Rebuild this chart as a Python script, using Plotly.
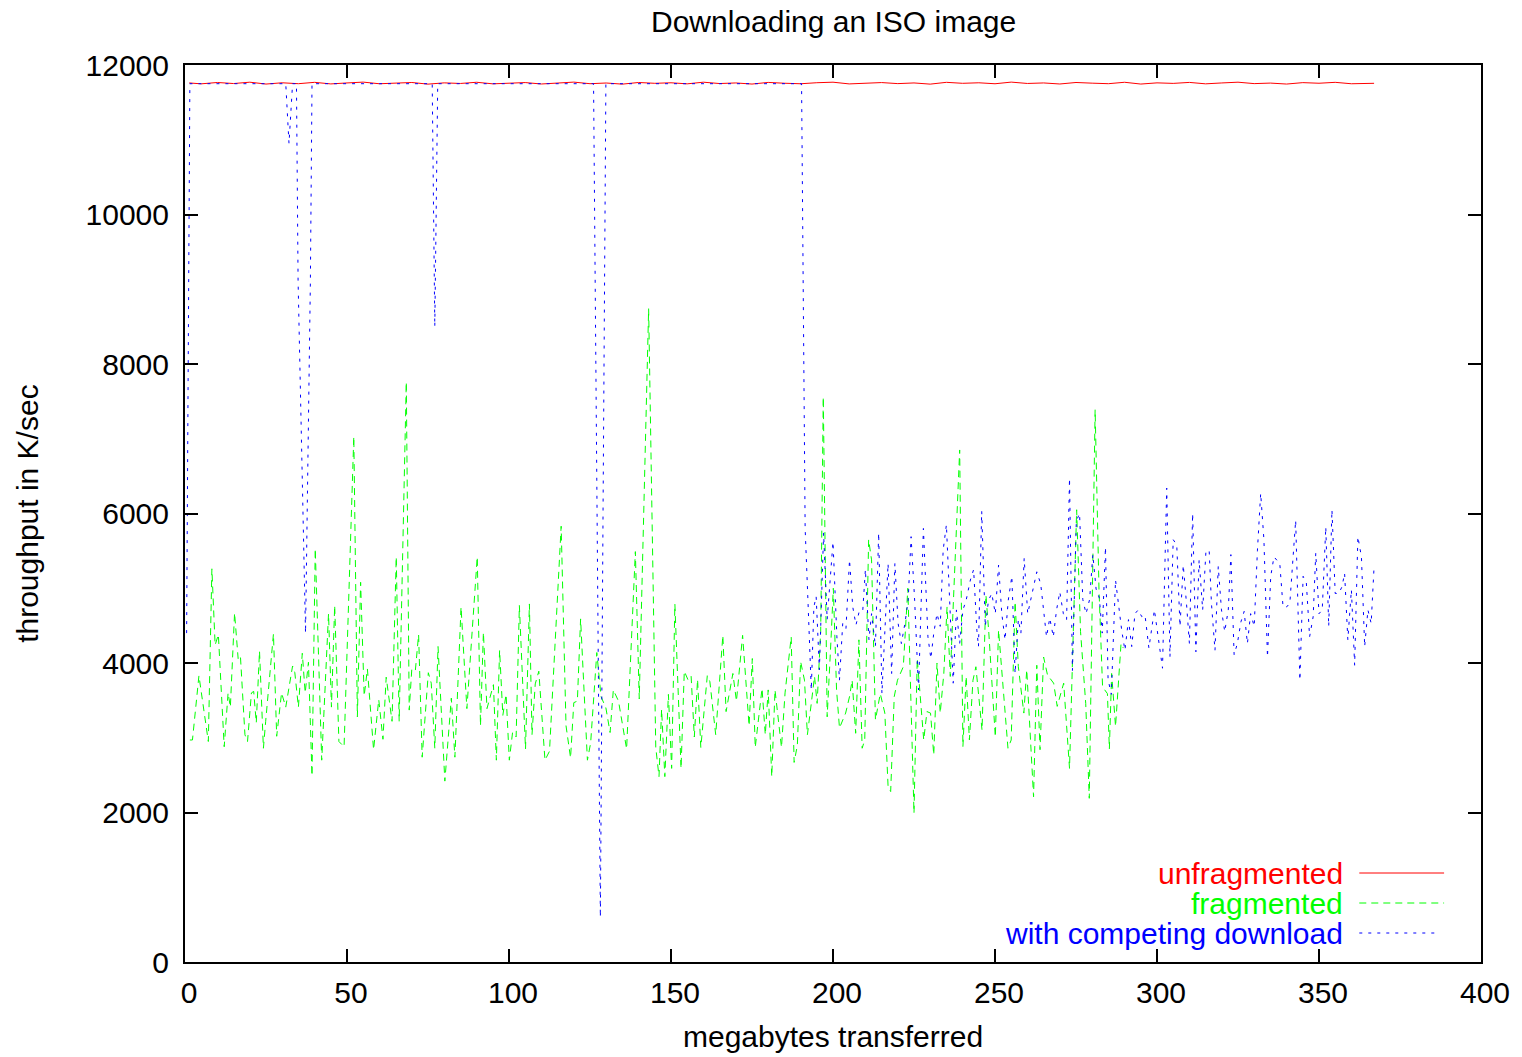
import plotly.graph_objects as go

# ---------------- data ----------------
red_x = [1.3, 5, 10, 15, 20, 25, 30, 35, 40, 45, 50, 55, 60, 65, 70, 75, 80, 85, 90, 95,
         100, 105, 110, 115, 120, 125, 130, 135, 140, 145, 150, 155, 160, 165, 170, 175,
         180, 185, 190, 195, 200, 205, 210, 215, 220, 225, 230, 235, 240, 245, 250, 255,
         260, 265, 270, 275, 280, 285, 290, 295, 300, 305, 310, 315, 320, 325, 330, 335,
         340, 345, 350, 355, 360, 365, 367]
red_y = [11760, 11748, 11766, 11752, 11770, 11745, 11762, 11750, 11768, 11747, 11760, 11771,
         11749, 11758, 11766, 11744, 11761, 11753, 11769, 11748, 11757, 11765, 11746, 11760,
         11771, 11750, 11759, 11744, 11766, 11755, 11762, 11748, 11770, 11752, 11760, 11745,
         11767, 11756, 11749, 11763, 11770, 11747, 11758, 11765, 11751, 11760, 11744, 11768,
         11755, 11762, 11749, 11771, 11753, 11760, 11746, 11766, 11757, 11750, 11769, 11745,
         11761, 11754, 11767, 11748, 11760, 11770, 11751, 11758, 11745, 11764, 11756, 11768,
         11749, 11760, 11755]

green_x = [1.5, 2.3, 4.3, 7.2, 8.3, 9.3, 10.3, 12.1, 13.3, 14.0, 15.3, 16.4, 17.1, 18.5, 19.3,
           20.5, 21.2, 22.0, 23.0, 24.2, 24.9, 27.3, 28.3, 29.8, 31.1, 33.2, 33.9, 35.0, 36.2,
           37.1, 38.1, 39.2, 40.2, 42.2, 44.3, 45.2, 46.2, 47.5, 49.1, 52.1, 53.2, 54.2, 55.3,
           56.3, 58.2, 59.8, 61.1, 62.1, 63.9, 65.2, 66.1, 68.3, 69.2, 70.0, 71.1, 72.1, 73.2,
           75.1, 76.0, 77.1, 78.1, 80.2, 82.2, 83.3, 85.2, 87.0, 90.2, 91.2, 92.1, 93.2, 95.2,
           96.1, 97.1, 98.1, 99.1, 100.1, 101.1, 102.2, 103.2, 105.1, 106.3, 107.1, 108.1,
           109.2, 111.1, 112.5, 116.1, 117.6, 119.0, 120.0, 121.1, 122.1, 124.2, 125.2, 127.1,
           128.4, 129.9, 131.2, 132.2, 133.8, 136.3, 139.0, 140.2, 143.1, 145.3, 146.3, 147.1,
           148.1, 149.2, 150.2, 151.2, 153.1, 154.1, 155.2, 156.2, 157.2, 158.2, 159.2, 161.2,
           162.0, 163.8, 166.0, 167.0, 169.1, 170.2, 172.1, 174.1, 175.1, 176.0, 178.1, 179.1,
           180.0, 181.1, 182.1, 184.1, 185.2, 187.1, 188.0, 189.0, 190.0, 191.2, 192.1, 193.3,
           194.3, 195.1, 196.2, 197.0, 198.2, 199.4, 200.1, 201.1, 202.0, 203.9, 205.1, 205.9,
           207.0, 208.0, 209.0, 209.8, 211.0, 211.9, 213.1, 214.6, 216.0, 217.0, 217.8, 218.9,
           219.9, 221.7, 223.1, 225.0, 226.0, 228.0, 229.0, 230.1, 231.1, 232.1, 233.1, 234.2,
           235.2, 236.2, 239.1, 240.1, 241.1, 242.1, 243.2, 244.1, 246.0, 247.2, 248.1, 250.1,
           251.1, 254.0, 255.0, 256.2, 257.2, 258.9, 259.8, 261.9, 262.9, 263.9, 265.0, 266.2,
           268.1, 269.2, 271.2, 273.0, 275.2, 276.4, 278.0, 279.1, 280.9, 282.1, 283.2, 284.7,
           285.3, 286.0, 287.2, 288.9, 289.6]
green_y = [2970, 2970, 3830, 2950, 5260, 4240, 4380, 2880, 3600, 3410, 4670, 4060, 4100, 3040, 2950,
           3600, 3620, 3200, 4160, 2860, 3220, 4390, 3020, 3600, 3410, 3960, 3870, 3410, 4130,
           3600, 4010, 2490, 5530, 2700, 4660, 3410, 4770, 2950, 2880, 7030, 3280, 5080, 3560,
           3920, 2840, 3510, 2980, 3810, 3220, 5420, 3220, 7760, 3370, 3920, 3900, 4380, 2740,
           3870, 3730, 2860, 4220, 2420, 3530, 2740, 4750, 3390, 5420, 3160, 4410, 3390, 3710,
           2700, 4170, 3300, 3580, 2700, 3070, 3010, 4770, 2850, 4790, 3040, 3720,
           3890, 2700, 2820, 5830, 3160, 2730, 3470, 3490, 4590, 2700, 2930, 4140,
           3550, 3400, 3070, 3640, 3490, 2850, 5490, 3520, 8740, 2870, 2480, 3380,
           2480, 3580, 2590, 4790, 2590, 3890, 3780, 3830, 3010, 3780, 2870, 3830,
           3750, 3040, 4370, 3350, 3860, 3490, 4370, 3160, 4060, 2870, 3660, 3040,
           3640, 2480, 3640, 2870, 3600, 4350, 2670, 2900, 4020, 3770, 3040, 3460,
           3820, 3460, 4420, 7560, 3280, 4330, 5000, 3640, 3130, 3330, 3550, 3770,
           3060, 4310, 2860, 2970, 5650, 5380, 3240, 3590, 3330, 2350, 2280, 3550,
           3770, 3950, 5000, 1990, 4060, 2970, 3350, 3330, 2770, 4000, 3330, 3860,
           4750, 3820, 6850, 2880, 3820, 2970, 3770, 3950, 3100, 4910, 4400, 3010,
           4440, 2860, 2970, 4820, 3950, 3330, 3910, 2210, 3970, 2840, 4080, 3840,
           3730, 3420, 3730, 2590, 6050, 4420, 3460, 2190, 7390, 4980, 3680, 3590,
           2850, 3860, 3150, 4260, 4200]

blue_x = [0.5, 1.5, 31.1, 32.1, 33.2, 34.4, 34.9, 37.2, 38.7, 39.2, 76.3, 77.1, 78.0,
          126.1, 128.2, 129.9, 190.3, 191.4, 192.3, 193.3,
          194.1, 194.8, 195.8, 197.1, 198.2, 200.0, 201.2, 202.0, 203.0, 204.0, 205.1, 206.1,
          207.1, 208.2, 209.2, 210.0, 211.1, 211.9, 213.1, 214.1, 215.1, 216.2, 217.0, 218.1,
          219.1, 220.1, 221.1, 222.2, 223.2, 224.1, 225.2, 226.4, 227.9, 229.3, 230.2, 231.1,
          232.1, 233.1, 234.0, 235.0, 236.1, 237.1, 238.1, 239.1, 240.1, 241.1, 242.4, 243.4,
          244.4, 244.9, 245.9, 247.0, 248.0, 249.0, 250.1, 251.1, 252.1, 253.1, 254.1, 255.2,
          256.2, 257.2, 258.0, 259.0, 260.1, 261.8, 262.9, 264.1, 265.2, 265.9, 266.9, 268.0,
          269.0, 270.0, 271.1, 272.1, 273.0, 273.9, 275.1, 276.1, 277.1, 278.1, 279.2, 280.2,
          281.2, 282.2, 283.1, 284.1, 284.9, 285.9, 287.2, 288.1, 289.1, 290.1, 291.2, 292.2,
          293.2, 294.2, 295.3, 296.3, 297.5, 299.2, 300.4, 301.7, 303.0, 304.0, 305.0, 306.1,
          307.1, 308.1, 309.1, 310.0, 311.0, 312.0, 313.0, 314.1, 315.1, 316.1, 316.8, 317.9,
          318.9, 319.9, 320.9, 322.0, 322.8, 323.8, 324.8, 325.9, 326.9, 327.9, 328.9, 330.0,
          331.0, 332.0, 333.0, 334.1, 335.1, 336.1, 337.9, 338.9, 340.0, 341.0, 342.8, 344.1,
          345.1, 346.1, 347.1, 348.2, 349.0, 350.0, 351.0, 352.1, 353.0, 354.0, 355.0, 356.1,
          357.1, 357.9, 358.9, 360.0, 361.0, 362.0, 363.1, 364.1, 365.1, 366.1, 367.0]
blue_y = [4400, 11750, 11750, 10950, 11750, 11750, 9120, 4400, 9120, 11750, 11750, 8500, 11750,
          11750, 600, 11750, 11750, 5800, 4800, 3640,
          4750, 4890, 3910, 5740, 4580, 5620, 4350, 3770, 4530, 4460, 5380, 4750,
          4510, 4710, 4710, 5250, 4310, 4660, 4220, 5740, 3590, 4710, 5330, 3860,
          5330, 4530, 4260, 4530, 4840, 5690, 4840, 3640, 5800, 4350, 4060, 4400,
          4660, 4490, 5510, 5850, 4620, 3730, 4710, 4260, 4710, 4840, 5110, 5250,
          4440, 4220, 6030, 4490, 4840, 4930, 4660, 5310, 4660, 4310, 4840, 5160,
          3860, 4580, 4400, 5400, 4660, 5020, 5220, 5060, 4580, 4350, 4600, 4350,
          4710, 4950, 4660, 4580, 6470, 3900, 5900, 6000, 4850, 4660, 4850, 5450,
          4990, 4870, 4400, 5550, 3780, 3580, 5110, 4750, 4440, 4170, 4580, 4220,
          4660, 4710, 4620, 4640, 4200, 4710, 4350, 3930, 6340, 4080, 5650, 5580,
          4490, 5310, 4800, 4260, 6000, 4150, 5380, 4710, 5490, 5510, 4800, 4170,
          5290, 4710, 4420, 4710, 5450, 4110, 4260, 4550, 4690, 4260, 4660, 4490,
          5510, 6270, 5650, 4080, 5160, 5420, 5330, 4750, 4750, 4800, 5910, 3770,
          5160, 5070, 4350, 4620, 5470, 4660, 4710, 5820, 4490, 6050, 4930, 4930,
          5020, 5200, 4310, 4980, 3970, 5690, 5420, 4220, 4710, 4530, 5290]

x_ticks = [0, 50, 100, 150, 200, 250, 300, 350, 400]
y_ticks = [0, 2000, 4000, 6000, 8000, 10000, 12000]

series_names = ["unfragmented", "fragmented", "with competing download"]
series_colors = ["#ff0000", "#00ff00", "#0000ff"]
series_dash = ["solid", "7px,5px", "3px,6px"]

FONT = "Liberation Sans, Arial, Helvetica, sans-serif"
FS = 30

fig = go.Figure()
for xs, ys, name, col, dash in zip([red_x, green_x, blue_x], [red_y, green_y, blue_y],
                                   series_names, series_colors, series_dash):
    fig.add_trace(go.Scatter(x=xs, y=ys, mode="lines", name=name,
                             line=dict(color=col, width=1, dash=dash), showlegend=False))

# plot-area geometry (pixels)
L, R, T, B = 185, 1484, 65, 962
W, H = R - L, B - T

def px(xp):
    return (xp - L) / W

def py(yp):
    return (B - yp) / H

# gnuplot-style legend: right-aligned text with sample line on the right
rows = [873, 903, 933]
ends = [1447, 1447, 1440]
for name, col, dash, yr, xe in zip(series_names, series_colors, series_dash, rows, ends):
    fig.add_annotation(x=px(1348), y=py(yr), xref="paper", yref="paper", text=name,
                       showarrow=False, xanchor="right", yanchor="middle",
                       font=dict(family=FONT, size=FS, color=col))
    fig.add_shape(type="line", xref="paper", yref="paper", x0=px(1362), x1=px(xe),
                  y0=py(yr), y1=py(yr), line=dict(color=col, width=1, dash=dash))

fig.add_annotation(x=0.5, y=py(21), xref="paper", yref="paper", text="Downloading an ISO image",
                   showarrow=False, xanchor="center", yanchor="middle",
                   font=dict(family=FONT, size=FS, color="black"))
fig.add_annotation(x=0.5, y=py(1036), xref="paper", yref="paper", text="megabytes transferred",
                   showarrow=False, xanchor="center", yanchor="middle",
                   font=dict(family=FONT, size=FS, color="black"))
fig.add_annotation(x=px(27), y=0.5, xref="paper", yref="paper", text="throughput in K/sec",
                   showarrow=False, xanchor="center", yanchor="middle", textangle=-90,
                   font=dict(family=FONT, size=FS, color="black"))

axis_common = dict(showgrid=False, zeroline=False, showline=True, linecolor="black",
                   linewidth=2, mirror="allticks", ticks="inside", ticklen=13,
                   tickwidth=1.5, tickcolor="black",
                   tickfont=dict(family=FONT, size=FS, color="black"))

fig.update_xaxes(range=[0, 400], tickvals=x_ticks, ticktext=[str(v) for v in x_ticks],
                 ticklabelstandoff=3, ticklabelshift=4, **axis_common)
fig.update_yaxes(range=[0, 12000], tickvals=y_ticks, ticktext=[str(v) for v in y_ticks],
                 ticklabelstandoff=8, **axis_common)

fig.update_layout(width=1522, height=1057, plot_bgcolor="white", paper_bgcolor="white",
                  margin=dict(l=L, r=1522 - R, t=T, b=1057 - B, pad=0),
                  font=dict(family=FONT, color="black"))

fig.write_html("out.html")
